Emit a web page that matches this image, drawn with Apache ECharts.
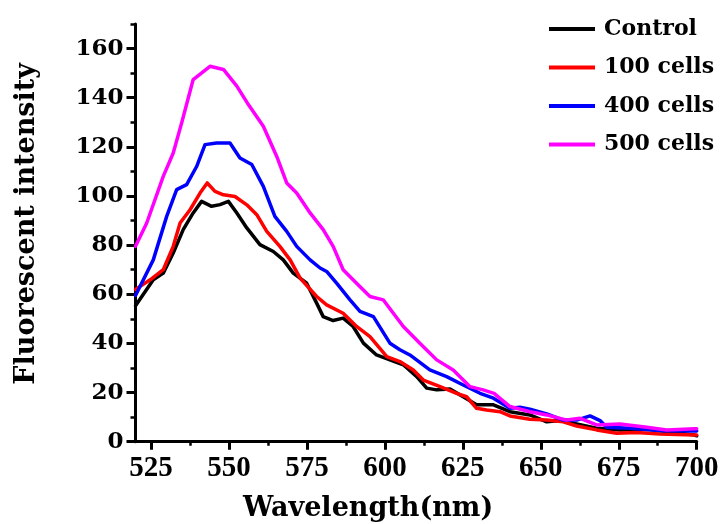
<!DOCTYPE html>
<html>
<head>
<meta charset="utf-8">
<script src="https://cdn.jsdelivr.net/npm/echarts@6/dist/echarts.min.js"></script>
<style>
html,body{margin:0;padding:0;background:#fff;}
#chart{width:721px;height:524px;}
</style>
</head>
<body>
<div id="chart"></div>
<script>
// ---- data ----
const seriesNames = ['Control', '100 cells', '400 cells', '500 cells'];
const seriesColors = ['#000000', '#ff0000', '#0000ff', '#ff00ff'];

const wlControl = [520,525.7,528.9,532.1,535.3,538.5,541.2,544.4,547.1,549.8,552.5,555.7,559.9,564.2,567.4,570.6,574.9,578.1,580.2,583.4,586.6,589.8,593.1,597.3,601.6,605.9,610.2,613.4,616.6,620.9,625.1,629.4,634.8,640.1,646.5,651.9,656.1,661.5,667.9,675.4,684,690.4,699.4,700];
const intControl = [55.3,65.9,68.6,76.8,86.3,93.1,97.8,95.8,96.5,97.8,93.1,87,80.2,77.4,74,68.6,64.5,56.4,50.9,49.3,50.3,46.9,40.1,35.3,33.3,31.3,26.5,21.8,21.1,21.4,18.3,15,15,12.2,10.9,8.1,8.6,7.2,5.5,4.8,5.1,4.1,2.7,2.4];

const wl100 = [520,524.7,528.9,532.1,534.3,537.5,540.7,543,545.5,548.2,551.9,555.7,558.9,562.1,566.3,569.6,572.8,578.1,581.3,586.6,590.9,595.2,600.6,604.8,609.1,612.3,617.7,623,626.2,629.4,632.6,636.9,640.1,646.5,651.9,657.2,661.5,667.9,674.3,680.7,688.2,699.4,700];
const int100 = [62,65.9,70,79.5,89,94.4,101.2,105.3,101.9,100.5,99.8,96.4,92.4,85.6,79.5,74,66.6,59.1,55.7,52.3,46.9,42.8,34.6,32.6,29.2,25.1,22.4,19.7,18.3,13.6,12.9,12.2,10.5,9.1,8.8,8.1,6.4,4.8,3.4,3.7,3.1,2.7,2.7];

const wl400 = [520,525.7,530,533.2,536.4,539.6,542.3,546,550.3,553.5,557.3,561,564.7,568.5,571.7,576,579.2,581.3,584.5,588.8,592,596.3,601.6,604.8,608,614.4,619.8,625.1,630.5,634.8,640.1,643.3,646.5,651.9,657.2,661.5,665.8,669,671.1,678.6,689.3,699.4,700];
const int400 = [59.5,74,91.7,102.6,104.6,112,120.9,121.6,121.6,115.5,112.8,103.9,91.7,85.6,79.5,74,70.7,69.3,64.5,57.7,53,50.9,40.1,37.4,35.3,29.2,26.5,23.1,19.7,17.7,13.6,14,13.2,11.3,8.8,8.8,10.5,8.6,5.9,5.5,4.5,4.4,4.4];

const wl500 = [520,523.6,528.9,532.1,534.8,538.5,543.9,548.2,552.5,556.2,561,565.3,568.5,571.7,576,580.2,583.4,586.6,590.9,595.2,599.5,602.7,605.9,611.2,616.6,621.9,627.3,631.5,635,640.1,646.5,651.9,658.3,662.6,667.9,675.4,684,690.4,699.4,700];
const int500 = [79.5,89,108,117.5,129.7,147.4,152.8,151.5,144.7,137.2,128.4,116.1,105.3,101.2,93.1,86.3,79.5,70,64.5,59.1,57.7,52.3,46.9,40.1,33.3,29.2,22.4,21.1,19.7,14.3,12.2,10.9,8.8,9.5,6.8,7.2,5.9,4.8,5.3,5.3];

const xMajorTicks = [525,550,575,600,625,650,675,700];
const xMinorTicks = [537.5,562.5,587.5,612.5,637.5,662.5,687.5];
const yMajorTicks = [0,20,40,60,80,100,120,140,160];
const yMinorTicks = [10,30,50,70,90,110,130,150,170];

const xTitle = 'Wavelength(nm)';
const yTitle = 'Fluorescent intensity';

// ---- build chart ----
const wls = [wlControl, wl100, wl400, wl500];
const ints = [intControl, int100, int400, int500];
const WIDE = 'DejaVu Serif';
const TIMES = 'Liberation Serif';

const chart = echarts.init(document.getElementById('chart'), null, {renderer: 'canvas'});

const option = {
  animation: false,
  backgroundColor: '#ffffff',
  grid: {left: 135.5, right: 24.3, top: 24, bottom: 82.3, containLabel: false, outerBoundsMode: 'none'},
  legend: {
    orient: 'vertical',
    left: 549,
    top: 18,
    padding: 0,
    itemWidth: 46,
    itemHeight: 4,
    itemGap: 16.5,
    icon: 'rect',
    data: seriesNames,
    textStyle: {fontFamily: WIDE, fontWeight: 'bold', fontSize: 22, color: '#000', padding: [0, 0, 0, 4]}
  },
  xAxis: [
    {
      type: 'value', min: 520, max: 700, position: 'bottom',
      axisLine: {show: true, onZero: false, lineStyle: {color: '#000', width: 3}},
      axisTick: {show: true, customValues: xMajorTicks, length: 8, lineStyle: {color: '#000', width: 3}},
      axisLabel: {show: true, customValues: xMajorTicks, margin: 12,
        fontFamily: TIMES, fontWeight: 'bold', fontSize: 29, color: '#000'},
      splitLine: {show: false},
      name: xTitle, nameLocation: 'middle', nameGap: 54,
      nameTextStyle: {fontFamily: WIDE, fontWeight: 'bold', fontSize: 27, color: '#000', padding: [0, 96, 0, 0]}
    },
    {
      type: 'value', min: 520, max: 700, position: 'bottom', gridIndex: 0,
      axisLine: {show: false},
      axisTick: {show: true, customValues: xMinorTicks, length: 4, lineStyle: {color: '#000', width: 2.5}},
      axisLabel: {show: false},
      splitLine: {show: false}
    }
  ],
  yAxis: [
    {
      type: 'value', min: 0, max: 170, position: 'left',
      axisLine: {show: true, onZero: false, lineStyle: {color: '#000', width: 3}},
      axisTick: {show: true, customValues: yMajorTicks, length: 9, lineStyle: {color: '#000', width: 3}},
      axisLabel: {show: true, customValues: yMajorTicks, margin: 12,
        fontFamily: WIDE, fontWeight: 'bold', fontSize: 23, color: '#000'},
      splitLine: {show: false},
      name: yTitle, nameLocation: 'middle', nameGap: 95,
      nameTextStyle: {fontFamily: WIDE, fontWeight: 'bold', fontSize: 27, color: '#000', padding: [0, 0, 0, 18]}
    },
    {
      type: 'value', min: 0, max: 170, position: 'left', gridIndex: 0,
      axisLine: {show: false},
      axisTick: {show: true, customValues: yMinorTicks, length: 5, lineStyle: {color: '#000', width: 2.5}},
      axisLabel: {show: false},
      splitLine: {show: false}
    }
  ],
  series: seriesNames.map((name, i) => ({
    name: name,
    type: 'line',
    xAxisIndex: 0,
    yAxisIndex: 0,
    showSymbol: false,
    symbol: 'none',
    smooth: false,
    color: seriesColors[i],
    lineStyle: {color: seriesColors[i], width: 3.5, join: 'round', cap: 'round'},
    data: wls[i].map((x, j) => [x, ints[i][j]])
  }))
};

chart.setOption(option);
</script>
</body>
</html>
